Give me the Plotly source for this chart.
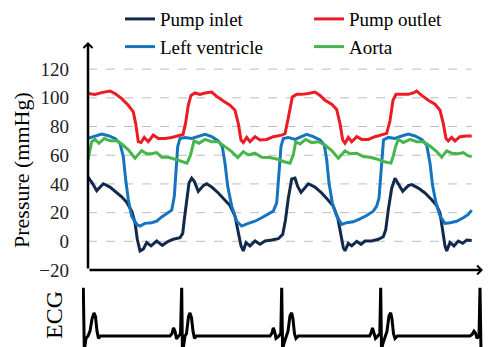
import plotly.graph_objects as go

# ---------------- data (time in s, pressure in mmHg, ECG in mV) ----------------
NAMES = ["Pump inlet", "Pump outlet", "Left ventricle", "Aorta"]
COLORS = ["#13294B", "#EC1C24", "#1673C0", "#45B649"]

T_INLET = [0.0, 0.043, 0.087, 0.153, 0.22, 0.287, 0.337, 0.387, 0.437, 0.47,
           0.493, 0.52, 0.553, 0.587, 0.63, 0.687, 0.743, 0.803, 0.853, 0.92,
           0.947, 0.963, 0.987, 1.01, 1.037, 1.063, 1.103, 1.153, 1.187, 1.237,
           1.303, 1.37, 1.42, 1.47, 1.503, 1.53, 1.553, 1.58, 1.62, 1.67,
           1.72, 1.77, 1.837, 1.903, 1.947, 1.975, 2.003, 2.037, 2.07, 2.097,
           2.13, 2.17, 2.203, 2.27, 2.337, 2.403, 2.453, 2.497, 2.53, 2.553,
           2.57, 2.603, 2.637, 2.687, 2.73, 2.77, 2.837, 2.903, 2.953, 2.977,
           3.003, 3.037, 3.07, 3.103, 3.147, 3.203, 3.237, 3.303, 3.37, 3.437,
           3.487, 3.52, 3.547, 3.57, 3.587, 3.62, 3.66, 3.703, 3.747, 3.787,
           3.837]
P_INLET = [44.7, 40.6, 35.3, 40.1, 37.8, 33.7, 31, 27.2, 21, 13,
           1.4, -6.7, -5.5, -0.9, -3.2, 0.2, -2.8, 0, 1.4, 2.5,
           5.5, 15.2, 29, 40.6, 44, 41.8, 34.8, 38.8, 40.1, 37.8,
           33.7, 29, 24.9, 17.5, 6, -3.2, -6.7, -0.9, -3.2, 0.2,
           -2.1, 0.2, 0.9, 1.8, 4.8, 15, 30, 43.4, 44, 38.3,
           34.1, 37.8, 40.1, 37.8, 33.7, 28.6, 24.5, 16.4, 3.7, -4.4,
           -6.7, -1.4, -3.2, 0, -2.1, 0.2, 0.2, 1.4, 3.2, 8,
           22, 37, 44, 40.1, 34.8, 38.8, 39.5, 37.1, 33.7, 29,
           24.9, 19.8, 8.3, -3.2, -6.7, -0.9, -3.2, 0.2, -1.4, 0.9,
           0.5]

T_OUTLET = [0.0, 0.07, 0.137, 0.22, 0.27, 0.337, 0.403, 0.453, 0.477, 0.503,
            0.53, 0.563, 0.603, 0.653, 0.703, 0.77, 0.837, 0.92, 0.95, 0.975,
            1.003, 1.03, 1.07, 1.12, 1.17, 1.237, 1.287, 1.353, 1.42, 1.47,
            1.503, 1.53, 1.553, 1.587, 1.62, 1.67, 1.72, 1.787, 1.853, 1.937,
            1.97, 2.003, 2.043, 2.087, 2.137, 2.203, 2.27, 2.32, 2.37, 2.437,
            2.487, 2.52, 2.547, 2.57, 2.603, 2.637, 2.687, 2.737, 2.803, 2.87,
            2.937, 2.987, 3.02, 3.05, 3.08, 3.137, 3.203, 3.253, 3.287, 3.337,
            3.403, 3.47, 3.52, 3.553, 3.58, 3.603, 3.637, 3.67, 3.72, 3.787,
            3.837]
P_OUTLET = [103, 102.4, 103.6, 104.7, 103, 99.4, 94.8, 90.2, 82, 69.4,
            68.8, 72.4, 69.4, 74, 71.7, 71.7, 72.4, 74, 74.5, 82,
            95, 101.7, 103.4, 102.4, 103.4, 104, 101, 97.8, 94.8, 91.4,
            82, 70.6, 68.8, 72.4, 69.4, 72.9, 70.6, 71, 72.9, 74,
            75, 86, 100.6, 102.4, 102.4, 103, 104, 101.7, 98.3, 95.5,
            91.8, 82, 70.6, 68.3, 72.4, 69.4, 72.9, 71, 71, 72.9,
            74, 75.2, 84, 98.3, 102.4, 102.4, 102.4, 103.4, 104.7, 101.7,
            98.3, 95.5, 91.4, 82, 71.7, 70, 72.4, 70, 72.9, 73.4,
            73.4]

T_LV = [0.0, 0.07, 0.137, 0.203, 0.27, 0.32, 0.353, 0.377, 0.403, 0.437,
        0.487, 0.52, 0.57, 0.637, 0.687, 0.737, 0.787, 0.837, 0.863, 0.877,
        0.897, 0.92, 0.97, 1.037, 1.103, 1.17, 1.237, 1.303, 1.343, 1.37,
        1.397, 1.437, 1.487, 1.537, 1.603, 1.67, 1.737, 1.803, 1.853, 1.887,
        1.91, 1.93, 1.953, 2.003, 2.07, 2.12, 2.187, 2.253, 2.32, 2.363,
        2.387, 2.41, 2.443, 2.487, 2.537, 2.587, 2.653, 2.72, 2.787, 2.853,
        2.887, 2.91, 2.925, 2.94, 2.955, 3.003, 3.07, 3.137, 3.203, 3.27,
        3.337, 3.387, 3.42, 3.447, 3.48, 3.52, 3.57, 3.62, 3.687, 3.753,
        3.803, 3.837]
P_LV = [71.7, 73.4, 74.7, 73.6, 71.7, 68.3, 59, 43, 29, 17.5,
        11.8, 10.6, 12.5, 13, 14, 17, 19.4, 21.7, 31.4, 47.5,
        66, 71.7, 72.4, 71.7, 72.9, 74.5, 72.9, 70, 66, 54.4,
        38.3, 24.5, 14, 10.6, 12.5, 14, 16.4, 18.7, 21, 26.8,
        47.5, 66, 71.7, 72.4, 71, 72.4, 74.5, 72.9, 70.6, 67.1,
        56.8, 40.6, 26.8, 17.5, 11.8, 13, 13.6, 15.7, 18, 21,
        24.5, 30, 45, 62, 70.6, 72.4, 71.7, 73.4, 74.7, 73.4,
        71, 67.1, 54.4, 38.3, 26.8, 17.5, 12.5, 13, 14, 16.4,
        18.7, 21.7]

T_AORTA = [0.0, 0.037, 0.07, 0.11, 0.163, 0.22, 0.287, 0.337, 0.403, 0.47,
           0.537, 0.587, 0.637, 0.687, 0.737, 0.803, 0.87, 0.937, 0.99, 1.025,
           1.06, 1.11, 1.17, 1.237, 1.303, 1.37, 1.437, 1.497, 1.553, 1.603,
           1.67, 1.737, 1.82, 1.887, 1.953, 2.02, 2.053, 2.077, 2.12, 2.177,
           2.237, 2.303, 2.37, 2.437, 2.503, 2.57, 2.62, 2.687, 2.753, 2.82,
           2.887, 2.953, 3.03, 3.055, 3.075, 3.103, 3.153, 3.22, 3.287, 3.353,
           3.42, 3.487, 3.537, 3.587, 3.637, 3.703, 3.753, 3.803, 3.837]
P_AORTA = [57, 69.4, 71, 68.3, 71.7, 70, 70, 67.8, 63.7, 57.9,
           63.2, 61, 61, 61.8, 58.6, 58.6, 57.2, 55.6, 54.5, 60,
           70, 68.3, 71, 69.4, 69.4, 66, 62.5, 58.4, 62.5, 60.2,
           61.4, 58.6, 58.4, 57.4, 55.6, 54.4, 60.2, 69.4, 67.8, 71,
           68.8, 69.4, 67.1, 63.2, 57.9, 63, 61, 61.4, 59.1, 58.6,
           57.4, 55.6, 54.5, 60, 66, 71, 68.8, 71, 69.4, 69.4,
           66.4, 62.5, 58.6, 63, 61.4, 61, 61.8, 59.5, 59]

T_ECG = [-0.047, -0.037, -0.02, 0.0, 0.02, 0.04, 0.06, 0.075, 0.09, 0.105, 0.125, 0.82,
         0.84, 0.855, 0.87, 0.885, 0.90, 0.925, 0.937, 0.944, 0.955, 0.97, 0.985, 1.005,
         1.02, 1.035, 1.05, 1.065, 1.085, 1.82,
         1.84, 1.853, 1.868, 1.88, 1.90, 1.928, 1.937, 1.946, 1.96, 1.98, 2.00, 2.02,
         2.037, 2.05, 2.065, 2.08, 2.105, 2.815,
         2.83, 2.845, 2.86, 2.875, 2.89, 2.918, 2.927, 2.935, 2.95, 2.97, 2.99, 3.01,
         3.027, 3.04, 3.055, 3.07, 3.095, 3.82,
         3.84, 3.86, 3.875, 3.89, 3.91, 3.92, 3.93]
V_ECG = [1.0, -0.3, -0.05, 0.0, 0.1, 0.35, 0.48, 0.4, 0.1, -0.05, 0.0, 0.0,
         0.05, 0.17, 0.1, -0.06, -0.02, 0.05, 1.0, -0.28, -0.22, 0.0, 0.05, 0.4,
         0.48, 0.38, 0.1, -0.05, 0.0, 0.0,
         0.06, 0.17, 0.08, -0.05, -0.02, 0.05, 1.0, -0.28, -0.15, 0.0, 0.1, 0.42,
         0.48, 0.35, 0.05, -0.05, 0.0, 0.0,
         0.06, 0.17, 0.08, -0.05, -0.02, 0.05, 1.0, -0.28, -0.15, 0.0, 0.1, 0.42,
         0.48, 0.35, 0.05, -0.05, 0.0, 0.0,
         0.03, 0.1, 0.06, -0.05, 0.0, 1.0, -0.34]

Y_TICKS = [-20, 0, 20, 40, 60, 80, 100, 120]
Y_TITLE = "Pressure (mmHg)"
ECG_TITLE = "ECG"

# ---------------- figure ----------------
W, H = 500, 347
PAGE_PAD = 8  # the page's default body margin shifts the figure by this much
SERIF = "Liberation Serif"


def fx(px):
    return (px - PAGE_PAD) / W


def fy(py):
    return 1 - (py - PAGE_PAD) / H


fig = go.Figure()
series = [(T_INLET, P_INLET), (T_OUTLET, P_OUTLET), (T_LV, P_LV), (T_AORTA, P_AORTA)]
for (t, p), name, col in zip(series, NAMES, COLORS):
    fig.add_trace(go.Scatter(x=t, y=p, mode="lines", name=name,
                             line=dict(color=col, width=3), xaxis="x", yaxis="y"))
fig.add_trace(go.Scatter(x=T_ECG, y=V_ECG, mode="lines", showlegend=False,
                         line=dict(color="black", width=3), xaxis="x", yaxis="y2"))

x_end = max(T_OUTLET)
y_top = 138.9

# dashed gridlines stopping where the data stops
for v in Y_TICKS[1:]:
    fig.add_shape(type="line", xref="x", yref="y", x0=0, x1=x_end, y0=v, y1=v,
                  line=dict(color="#BDBDBD", width=1, dash="dash"), layer="below")

# axes with arrows
fig.add_annotation(x=3.95, y=-20, ax=0, ay=-20, xref="x", yref="y", axref="x", ayref="y",
                   text="", showarrow=True, arrowhead=4, arrowsize=0.7, arrowwidth=2.5,
                   arrowcolor="black")
fig.add_annotation(x=0, y=y_top, ax=0, ay=-20, xref="x", yref="y", axref="x", ayref="y",
                   text="", showarrow=True, arrowhead=4, arrowsize=0.7, arrowwidth=2.5,
                   arrowcolor="black")

fig.add_annotation(text=Y_TITLE, xref="paper", yref="paper", x=fx(21), y=fy(170),
                   xanchor="center", yanchor="middle",
                   textangle=-90, showarrow=False, font=dict(family=SERIF, size=22, color="black"))
fig.add_annotation(text=ECG_TITLE, xref="paper", yref="paper", x=fx(54), y=fy(315),
                   xanchor="center", yanchor="middle",
                   textangle=-90, showarrow=False, font=dict(family=SERIF, size=24, color="black"))

fig.update_layout(
    width=W, height=H, margin=dict(l=0, r=0, t=0, b=0, autoexpand=False),
    paper_bgcolor="white", plot_bgcolor="rgba(0,0,0,0)",
    font=dict(family=SERIF, color="black"),
    xaxis=dict(domain=[fx(82), fx(485)], range=[-0.06, 3.97], visible=False),
    yaxis=dict(domain=[fy(270), fy(42)], range=[-20, y_top], anchor="free",
               position=fx(88), tickvals=Y_TICKS, showgrid=False, zeroline=False,
               showline=False, ticks="", ticklabelstandoff=19,
               tickfont=dict(family=SERIF, size=19, color="#222")),
    yaxis2=dict(domain=[0, fy(280)], range=[-0.395, 1.163], visible=False),
    legend=dict(orientation="h", x=fx(120), xanchor="left", y=fy(0.06), yanchor="top",
                entrywidth=144, font=dict(family=SERIF, size=19, color="black"),
                bgcolor="rgba(0,0,0,0)", traceorder="normal"),
    showlegend=True,
)

fig.write_html("out.html")
